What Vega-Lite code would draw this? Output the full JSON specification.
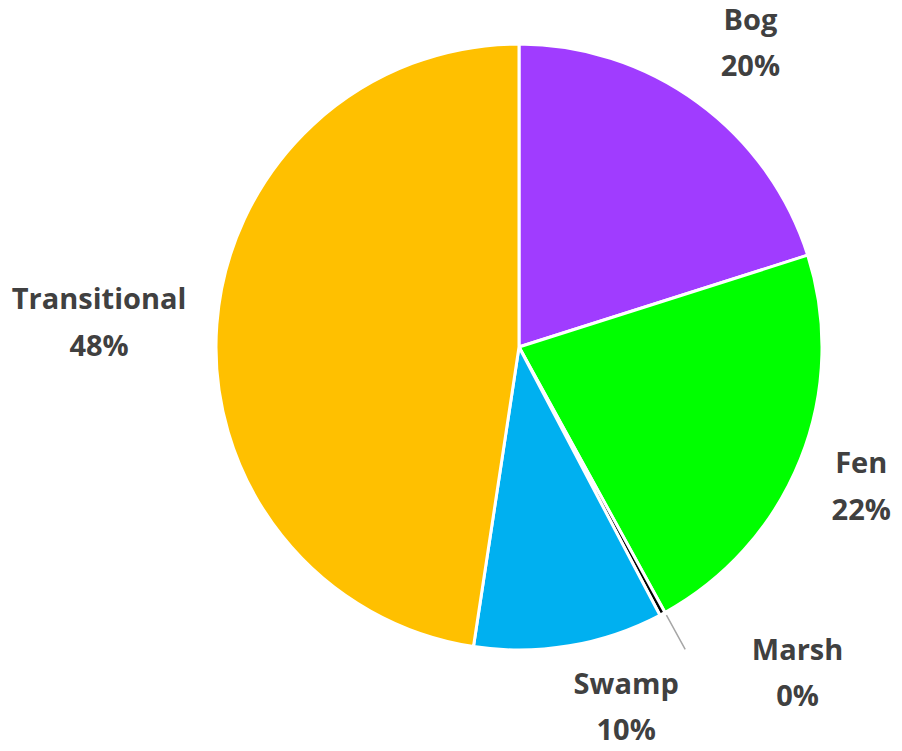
{
  "$schema": "https://vega.github.io/schema/vega-lite/v6.json",
  "width": 606,
  "height": 606,
  "autosize": {"type": "none"},
  "padding": {"left": 216, "top": 44, "right": 80, "bottom": 101},
  "background": "white",
  "config": {"view": {"stroke": null}},
  "data": {
    "values": [
      {"category": "Bog", "value": 0.201, "ord": 1},
      {"category": "Fen", "value": 0.219, "ord": 2},
      {"category": "Marsh", "value": 0.003, "ord": 3},
      {"category": "Swamp", "value": 0.101, "ord": 4},
      {"category": "Transitional", "value": 0.476, "ord": 5}
    ]
  },
  "encoding": {
    "theta": {"field": "value", "type": "quantitative", "stack": true},
    "order": {"field": "ord", "type": "quantitative", "sort": "ascending"}
  },
  "layer": [
    {
      "mark": {"type": "arc", "stroke": "white", "strokeWidth": 3},
      "encoding": {
        "color": {
          "field": "category",
          "type": "nominal",
          "scale": {
            "domain": ["Bog", "Fen", "Marsh", "Swamp", "Transitional"],
            "range": ["#A03CFF", "#00FF00", "#000000", "#00B0F0", "#FFC000"]
          },
          "legend": null
        }
      }
    },
    {
      "transform": [
        {"stack": "value", "groupby": [], "sort": [{"field": "ord", "order": "ascending"}], "as": ["v0", "v1"]},
        {"filter": "datum.category === 'Marsh'"}
      ],
      "mark": {"type": "arc", "radius": 345, "radius2": 306, "fill": null, "stroke": "#A6A6A6", "strokeWidth": 1.5},
      "encoding": {
        "theta": {"field": "v0", "type": "quantitative"},
        "theta2": {"field": "v0"}
      }
    },
    {
      "mark": {"type": "text", "radius": 375, "dx": 10, "dy": -23, "font": "Open Sans", "fontWeight": "bold", "fontSize": 29, "fill": "#404040", "baseline": "middle"},
      "encoding": {"text": {"field": "category", "type": "nominal", "condition": {"test": "datum.category !== 'Bog'", "value": ""}}}
    },
    {
      "mark": {"type": "text", "radius": 375, "dx": 10, "dy": 23, "font": "Open Sans", "fontWeight": "bold", "fontSize": 29, "fill": "#404040", "baseline": "middle"},
      "encoding": {"text": {"field": "value", "type": "quantitative", "format": ".0%", "condition": {"test": "datum.category !== 'Bog'", "value": ""}}}
    },
    {
      "mark": {"type": "text", "radius": 375, "dx": -6, "dy": -22, "font": "Open Sans", "fontWeight": "bold", "fontSize": 29, "fill": "#404040", "baseline": "middle"},
      "encoding": {"text": {"field": "category", "type": "nominal", "condition": {"test": "datum.category !== 'Fen'", "value": ""}}}
    },
    {
      "mark": {"type": "text", "radius": 375, "dx": -6, "dy": 25, "font": "Open Sans", "fontWeight": "bold", "fontSize": 29, "fill": "#404040", "baseline": "middle"},
      "encoding": {"text": {"field": "value", "type": "quantitative", "format": ".0%", "condition": {"test": "datum.category !== 'Fen'", "value": ""}}}
    },
    {
      "mark": {"type": "text", "radius": 375, "dx": 101, "dy": -26, "font": "Open Sans", "fontWeight": "bold", "fontSize": 29, "fill": "#404040", "baseline": "middle"},
      "encoding": {"text": {"field": "category", "type": "nominal", "condition": {"test": "datum.category !== 'Marsh'", "value": ""}}}
    },
    {
      "mark": {"type": "text", "radius": 375, "dx": 101, "dy": 20, "font": "Open Sans", "fontWeight": "bold", "fontSize": 29, "fill": "#404040", "baseline": "middle"},
      "encoding": {"text": {"field": "value", "type": "quantitative", "format": ".0%", "condition": {"test": "datum.category !== 'Marsh'", "value": ""}}}
    },
    {
      "mark": {"type": "text", "radius": 375, "dx": 45, "dy": -32, "font": "Open Sans", "fontWeight": "bold", "fontSize": 29, "fill": "#404040", "baseline": "middle"},
      "encoding": {"text": {"field": "category", "type": "nominal", "condition": {"test": "datum.category !== 'Swamp'", "value": ""}}}
    },
    {
      "mark": {"type": "text", "radius": 375, "dx": 45, "dy": 14, "font": "Open Sans", "fontWeight": "bold", "fontSize": 29, "fill": "#404040", "baseline": "middle"},
      "encoding": {"text": {"field": "value", "type": "quantitative", "format": ".0%", "condition": {"test": "datum.category !== 'Swamp'", "value": ""}}}
    },
    {
      "mark": {"type": "text", "radius": 375, "dx": -46, "dy": -19, "font": "Open Sans", "fontWeight": "bold", "fontSize": 29, "fill": "#404040", "baseline": "middle"},
      "encoding": {"text": {"field": "category", "type": "nominal", "condition": {"test": "datum.category !== 'Transitional'", "value": ""}}}
    },
    {
      "mark": {"type": "text", "radius": 375, "dx": -46, "dy": 28, "font": "Open Sans", "fontWeight": "bold", "fontSize": 29, "fill": "#404040", "baseline": "middle"},
      "encoding": {"text": {"field": "value", "type": "quantitative", "format": ".0%", "condition": {"test": "datum.category !== 'Transitional'", "value": ""}}}
    }
  ]
}
